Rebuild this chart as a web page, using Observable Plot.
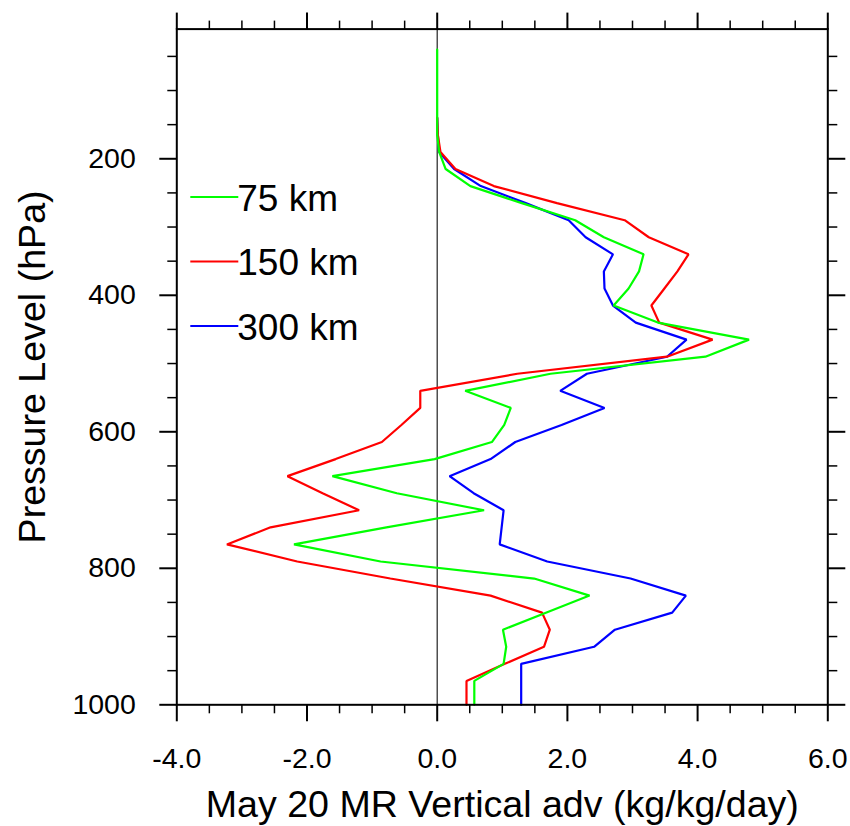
<!DOCTYPE html>
<html><head><meta charset="utf-8">
<script src="https://cdn.jsdelivr.net/npm/d3@7"></script>
<script src="https://cdn.jsdelivr.net/npm/@observablehq/plot@0.6"></script>
<style>html,body{margin:0;padding:0;background:#fff;} #chart svg{display:block;}</style>
</head><body><div id="chart"></div>
<script>
// Pressure levels (hPa)
const levels = [40,65,90,115,140,165,190,215,240,265,290,315,340,365,390,415,440,465,490,515,540,565,590,615,640,665,690,715,740,765,790,815,840,865,890,915,940,965,1000];
// Vertical advection (kg/kg/day) per series
const v75  = [0,0,0,0,0,0,0.03,0.13,0.51,1.30,2.12,2.56,3.17,3.10,2.94,2.71,3.39,4.79,4.12,1.74,0.43,1.13,1.03,0.84,-0.04,-1.61,-0.62,0.72,-0.78,-2.20,-0.87,1.49,2.34,1.67,1.01,1.06,1.02,0.57,0.57];
const v150 = [null,null,null,null,0,0.01,0.05,0.28,0.87,1.84,2.88,3.25,3.86,3.69,3.49,3.29,3.41,4.23,3.53,1.23,-0.26,-0.26,-0.55,-0.85,-1.56,-2.30,-1.76,-1.20,-2.56,-3.23,-2.15,-0.72,0.82,1.61,1.73,1.64,1.04,0.45,0.45];
const v300 = [null,null,null,null,0,0.01,0.03,0.26,0.67,1.36,2.02,2.28,2.70,2.56,2.57,2.70,3.05,3.83,3.53,2.30,1.89,2.57,1.91,1.20,0.82,0.19,0.56,1.02,0.99,0.96,1.69,2.97,3.82,3.61,2.73,2.41,1.29,1.29,1.29];
const seriesNames = ["75 km","150 km","300 km"];
const seriesColors = ["#00ff00","#ff0000","#0000ff"];
// Ticks
const xMajor = [-4,-2,0,2,4,6];
const xMinor = [-3.5,-3,-2.5,-1.5,-1,-0.5,0.5,1,1.5,2.5,3,3.5,4.5,5,5.5];
const yMajor = [200,400,600,800,1000];
const yMinor = [50,100,150,250,300,350,450,500,550,650,700,750,850,900,950];
const xLabel = "May 20 MR Vertical adv (kg/kg/day)";
const yLabel = "Pressure Level (hPa)";

const seriesValues = [v75, v150, v300];
const rows = seriesValues.map((vals, i) => levels.map((p, j) => ({p, v: vals[j], s: seriesNames[i]})).filter(d => d.v !== null));

const M = {top: 28.6, right: 22.7, bottom: 121.7, left: 176.3};
const blank = () => "";

const drawOrder = [2, 1, 0];
const plot = Plot.plot({
  width: 850, height: 826,
  marginTop: M.top, marginRight: M.right, marginBottom: M.bottom, marginLeft: M.left,
  style: {fontFamily: "'Liberation Sans', Arial, Helvetica, sans-serif", fontSize: "28.5px", color: "#000", background: "#fff"},
  x: {domain: [-4, 6]},
  y: {domain: [1000, 10]},
  marks: [
    Plot.ruleX([0], {stroke: "#222", strokeWidth: 1.2}),
    ...drawOrder.map(i => Plot.line(rows[i], {x: "v", y: "p", stroke: seriesColors[i], strokeWidth: 2.2, strokeLinejoin: "miter"})),
    Plot.frame({stroke: "#000", strokeWidth: 2}),
    Plot.axisX({anchor: "bottom", ticks: xMajor, tickSize: 17, tickPadding: 26, tickFormat: d => d.toFixed(1), strokeWidth: 2, label: null}),
    Plot.axisX({anchor: "bottom", ticks: xMinor, tickSize: 9, tickFormat: blank, strokeWidth: 1.5, label: null}),
    Plot.axisX({anchor: "top", ticks: xMajor, tickSize: 17, tickFormat: blank, strokeWidth: 2, label: null}),
    Plot.axisX({anchor: "top", ticks: xMinor, tickSize: 9, tickFormat: blank, strokeWidth: 1.5, label: null}),
    Plot.axisY({anchor: "left", ticks: yMajor, tickSize: 17, tickPadding: 24, tickFormat: d => String(d), strokeWidth: 2, label: null}),
    Plot.axisY({anchor: "left", ticks: yMinor, tickSize: 9, tickFormat: blank, strokeWidth: 1.5, label: null}),
    Plot.axisY({anchor: "right", ticks: yMajor, tickSize: 17, tickFormat: blank, strokeWidth: 2, label: null}),
    Plot.axisY({anchor: "right", ticks: yMinor, tickSize: 9, tickFormat: blank, strokeWidth: 1.5, label: null}),
    Plot.text([xLabel], {frameAnchor: "bottom", dy: 100.5, fontSize: 37.6, textAnchor: "middle", lineAnchor: "middle"}),
    Plot.text([yLabel], {frameAnchor: "left", dx: -143.4, rotate: -90, fontSize: 37.6, textAnchor: "middle", lineAnchor: "middle"})
  ]
});
document.getElementById("chart").appendChild(plot);

// Legend (inside plot frame, top-left)
const svg = d3.select(plot);
const lg = svg.append("g").attr("class", "legend");
seriesNames.forEach((name, i) => {
  const y = M.top + 168.5 + i * 64.5;
  lg.append("line").attr("x1", M.left + 14).attr("x2", M.left + 62).attr("y1", y).attr("y2", y)
    .attr("stroke", seriesColors[i]).attr("stroke-width", 2);
  lg.append("text").attr("x", M.left + 61).attr("y", y + 13.5).attr("font-size", 37)
    .attr("text-anchor", "start").attr("fill", "#000").text(name);
});
</script>
</body></html>
